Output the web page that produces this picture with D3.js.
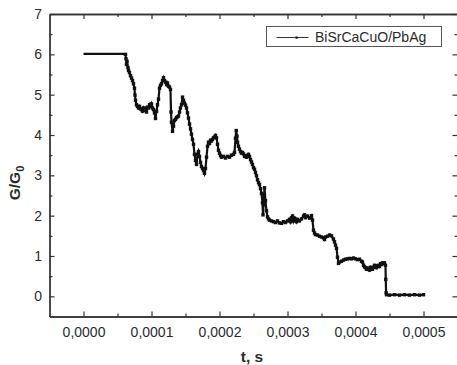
<!DOCTYPE html>
<html>
<head>
<meta charset="utf-8">
<script src="https://cdn.jsdelivr.net/npm/d3@7"></script>
<style>
  body { margin: 0; background: #fff; }
  text { font-family: Arial, "Liberation Sans", sans-serif; fill: #2b2b2b; }
</style>
</head>
<body>
<svg width="457" height="365"></svg>
<script>
// time in microseconds, conductance in units of G0
const timeUs = [0,10,20,30,40,50,58,61.8,62.5,63.2,64,65.4,66.2,67.6,69.1,70.6,72.1,73.5,75,75.7,76.5,77.9,79.4,80.9,82.4,83.8,85.3,86.8,88.2,89.7,91.2,92.6,94.1,95.6,97.1,98.5,100,101.5,102.9,104.4,105.9,107.4,108.8,110.3,111.8,113.2,114.7,116.2,117.6,119.1,120.6,122.1,123.5,125,126.5,127.9,128.7,129.4,130.9,132.4,133.8,135.3,136.8,138.2,139.7,141.2,142.6,144.1,145.6,147.1,148.5,150,151.5,152.9,154.4,155.9,157.4,158.8,160.3,161.8,163.2,164.7,166.2,167.6,169.1,170.6,172.1,173.5,175,176.5,177.9,179.4,180.9,182.4,183.8,185.3,186.8,188.2,189.7,191.2,192.6,194.1,195.6,197.1,198.5,200,201.5,202.9,205.9,208.8,211.8,214.7,217.6,220.6,222.1,223.5,224.6,225.7,226.5,227.9,229.4,230.9,232.4,233.8,235.3,236.8,238.2,239.7,241.2,242.6,244.1,245.6,247.1,248.5,250,251.5,252.9,254.4,255.9,257.4,258.8,260.3,261.8,263.2,264,264.7,266.2,267.6,269.1,270.6,272.1,273.5,276.5,279.4,282.4,285.3,288.2,291.2,294.1,297.1,300,302.9,304.4,305.9,307.4,308.8,310.3,311.8,313.2,314.7,317.6,320.6,323.5,325,326.5,329.4,332.4,335.3,336.8,338.2,339.7,341.2,344.1,347.1,350,352.9,354.4,355.9,358.8,361.8,364.7,367.6,369.1,370.6,372.1,373.5,375,376.5,379.4,382.4,385.3,388.2,391.2,394.1,397.1,400,402.9,405.9,408.8,410.3,411.8,413.2,414.7,416.2,417.6,419.1,420.6,422.1,423.5,425,426.5,427.9,429.4,430.9,432.4,433.8,435.3,436.8,438.2,439.7,441.2,442.6,444.1,444.5,445,445.6,450,457.4,464.7,472,479.4,486.8,494.1,500];
const gRatio = [6.01,6.01,6.01,6.01,6.01,6.01,6.01,6.0,5.89,5.75,5.83,5.67,5.6,5.55,5.47,5.41,5.35,5.27,5.16,4.99,4.86,4.75,4.71,4.67,4.71,4.65,4.63,4.59,4.67,4.62,4.66,4.57,4.69,4.67,4.75,4.71,4.77,4.67,4.63,4.55,4.41,4.59,4.75,4.89,5.16,5.23,5.27,5.35,5.42,5.35,5.31,5.25,5.29,5.21,5.19,5.13,4.57,4.32,4.09,4.22,4.36,4.39,4.43,4.45,4.47,4.57,4.67,4.75,4.94,4.86,4.79,4.74,4.67,4.55,4.42,4.27,4.15,4.02,3.89,3.77,3.52,3.37,3.27,3.52,3.59,3.47,3.32,3.22,3.17,3.12,3.05,3.17,3.45,3.72,3.82,3.79,3.87,3.85,3.89,3.93,3.95,3.99,3.93,3.77,3.62,3.55,3.49,3.45,3.47,3.43,3.47,3.45,3.5,3.52,3.57,3.92,4.11,3.97,3.82,3.72,3.65,3.59,3.55,3.57,3.53,3.47,3.49,3.45,3.49,3.52,3.47,3.39,3.33,3.27,3.19,3.15,3.07,2.99,2.89,2.82,2.77,2.67,2.55,2.32,2.02,2.27,2.69,2.37,2.12,1.97,1.92,1.89,1.87,1.85,1.83,1.87,1.82,1.81,1.85,1.83,1.87,1.91,1.85,1.95,1.99,1.87,1.94,1.91,1.85,1.91,1.87,1.92,1.99,2.02,1.95,1.99,1.94,2.0,1.89,1.64,1.57,1.53,1.52,1.49,1.47,1.45,1.41,1.47,1.49,1.52,1.5,1.42,1.35,1.27,1.19,0.97,0.82,0.85,0.87,0.9,0.92,0.93,0.94,0.93,0.95,0.93,0.91,0.92,0.87,0.85,0.77,0.73,0.71,0.67,0.7,0.69,0.65,0.72,0.69,0.67,0.72,0.77,0.75,0.71,0.75,0.77,0.74,0.81,0.79,0.83,0.81,0.83,0.77,0.42,0.09,0.04,0.03,0.04,0.03,0.04,0.03,0.04,0.03,0.04];
const xTicks = [0, 0.0001, 0.0002, 0.0003, 0.0004, 0.0005];
const xMinor = [0.00005, 0.00015, 0.00025, 0.00035, 0.00045];
const yTicks = [0, 1, 2, 3, 4, 5, 6, 7];
const yMinor = [0.5, 1.5, 2.5, 3.5, 4.5, 5.5, 6.5];
const seriesName = "BiSrCaCuO/PbAg";

const data = timeUs.map((t, i) => ({t: t * 1e-6, g: gRatio[i]}));

const plotLeft = 49.5, plotRight = 457.5, plotTop = 14, plotBottom = 316.5;

const x = d3.scaleLinear().domain([-0.00005, 0.00055]).range([plotLeft, plotRight]);
const y = d3.scaleLinear().domain([-0.5, 7]).range([plotBottom, plotTop]);

const svg = d3.select('svg');
const fmt = d => d3.format('.4f')(d).replace('.', ',');

function styleAxis(g) {
    g.select('.domain').attr('stroke', '#333').attr('stroke-width', 1.3);
    g.selectAll('.tick line').attr('stroke', '#333').attr('stroke-width', 1.2);
    g.selectAll('text').attr('font-size', 14).attr('fill', '#2b2b2b');
}

// bottom axis
svg.append('g').attr('transform', `translate(0,${plotBottom})`)
    .call(d3.axisBottom(x).tickValues(xTicks).tickFormat(fmt).tickSizeInner(-5).tickSizeOuter(0).tickPadding(11))
    .call(styleAxis);
svg.append('g').attr('transform', `translate(0,${plotBottom})`)
    .call(d3.axisBottom(x).tickValues(xMinor).tickFormat('').tickSizeInner(-3).tickSizeOuter(0))
    .call(styleAxis);

// top axis
svg.append('g').attr('transform', `translate(0,${plotTop})`)
    .call(d3.axisTop(x).tickValues(xTicks).tickFormat('').tickSizeInner(-5).tickSizeOuter(0))
    .call(styleAxis);
svg.append('g').attr('transform', `translate(0,${plotTop})`)
    .call(d3.axisTop(x).tickValues(xMinor).tickFormat('').tickSizeInner(-3).tickSizeOuter(0))
    .call(styleAxis);

// left axis
svg.append('g').attr('transform', `translate(${plotLeft},0)`)
    .call(d3.axisLeft(y).tickValues(yTicks).tickFormat(d3.format('d')).tickSizeInner(-5).tickSizeOuter(0).tickPadding(7.5))
    .call(styleAxis);
svg.append('g').attr('transform', `translate(${plotLeft},0)`)
    .call(d3.axisLeft(y).tickValues(yMinor).tickFormat('').tickSizeInner(-3).tickSizeOuter(0))
    .call(styleAxis);

// right axis
svg.append('g').attr('transform', `translate(${plotRight},0)`)
    .call(d3.axisRight(y).tickValues(yTicks).tickFormat('').tickSizeInner(-5).tickSizeOuter(0))
    .call(styleAxis);
svg.append('g').attr('transform', `translate(${plotRight},0)`)
    .call(d3.axisRight(y).tickValues(yMinor).tickFormat('').tickSizeInner(-3).tickSizeOuter(0))
    .call(styleAxis);

// series
const line = d3.line().x(d => x(d.t)).y(d => y(d.g));
svg.append('path')
    .datum(data)
    .attr('fill', 'none')
    .attr('stroke', '#111')
    .attr('stroke-width', 2.2)
    .attr('d', line);

svg.append('g')
    .selectAll('rect')
    .data(data.slice(7))
    .enter()
    .append('rect')
    .attr('x', d => x(d.t) - 1.7)
    .attr('y', d => y(d.g) - 1.7)
    .attr('width', 3.4)
    .attr('height', 3.4)
    .attr('fill', '#111');

// axis titles
svg.append('text')
    .attr('x', 252).attr('y', 361.5)
    .attr('text-anchor', 'middle')
    .attr('font-size', 15.5).attr('font-weight', 'bold')
    .text('t, s');

const yTitle = svg.append('text')
    .attr('transform', 'translate(19.5,183) rotate(-90)')
    .attr('text-anchor', 'middle')
    .attr('font-size', 15.5).attr('font-weight', 'bold');
yTitle.append('tspan').text('G/G');
yTitle.append('tspan').attr('font-size', 11).attr('dy', 4).text('0');

// legend
const legend = svg.append('g');
legend.append('rect')
    .attr('x', 266.5).attr('y', 26.5).attr('width', 175).attr('height', 20)
    .attr('fill', '#fff').attr('stroke', '#555').attr('stroke-width', 1);
legend.append('line')
    .attr('x1', 276.5).attr('x2', 308.5).attr('y1', 37.5).attr('y2', 37.5)
    .attr('stroke', '#333').attr('stroke-width', 1);
legend.append('rect')
    .attr('x', 295.5).attr('y', 36.5).attr('width', 2.2).attr('height', 2.2).attr('fill', '#111');
legend.append('text')
    .attr('x', 315).attr('y', 42.3)
    .attr('font-size', 14)
    .text(seriesName);
</script>
</body>
</html>
